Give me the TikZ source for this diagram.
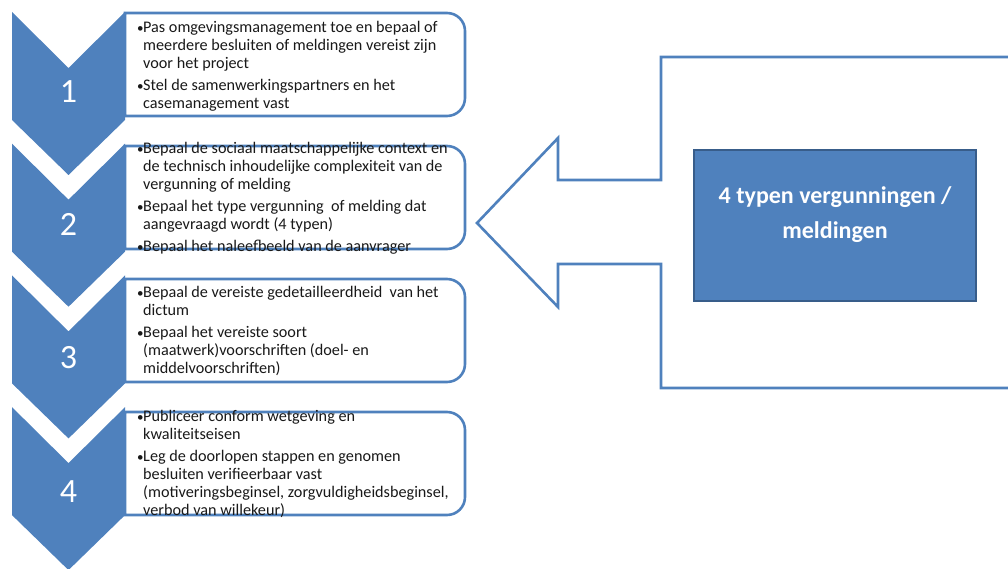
\documentclass[tikz,border=0pt]{standalone}
\usepackage{fontspec}
\setmainfont{Carlito}
\definecolor{accent}{HTML}{4F81BD}
\definecolor{accentdark}{HTML}{385D8A}
\newcommand{\bl}{\makebox[7pt][l]{\kern1pt{\fontsize{13}{13}\selectfont •}}}
\newcommand{\ct}{\hspace*{7pt}}
\tikzset{
  chevronshape/.style={fill=accent, draw=none},
  stepframe/.style={draw=accent, line width=2.6pt, fill=white},
  stepnum/.style={text=white, font=\fontsize{34}{40}\selectfont, inner sep=0pt},
  steptext/.style={anchor=west, align=left, inner sep=0pt, text=black!90,
    font=\fontsize{16.2}{18}\selectfont},
  bigarrow/.style={draw=accent, line width=2.6pt, fill=white, line join=miter},
  typebox/.style={draw=accentdark, line width=2.4pt, fill=accent}
}
\begin{document}
\begin{tikzpicture}[x=1pt, y=-1pt]
\useasboundingbox (0,0) rectangle (1008,569);
\clip (0,0) rectangle (1008,569);
% text boxes
\foreach \i in {0,1,2,3}{
  \pgfmathsetmacro{\T}{13+133*\i}
  \pgfmathsetmacro{\B}{\T+103}
  \draw[stepframe] (125,\B) -- (125,\T) [rounded corners=18pt] -- (465,\T) -- (465,\B) [sharp corners] -- (125,\B) -- cycle;
}
% chevrons
\foreach \i in {0,1,2,3}{
  \pgfmathsetmacro{\t}{12+131.7*\i}
  \fill[chevronshape] (12,\t) -- (68.5,\t+56) -- (125,\t) -- (125,\t+108) -- (68.5,\t+163) -- (12,\t+108) -- cycle;
}
\node[stepnum] (n1) at (68.5,92) {1};
\node[stepnum] (n2) at (68.5,224) {2};
\node[stepnum] (n3) at (68.5,358) {3};
\node[stepnum] (n4) at (68.5,492) {4};
% texts
\node[steptext] (t1) at (136,66) {\bl Pas omgevingsmanagement toe en bepaal of\\
\ct meerdere besluiten of meldingen vereist zijn\\
\ct voor het project\\[4pt]
\bl Stel de samenwerkingspartners en het\\
\ct casemanagement vast};
\node[steptext] (t2) at (136,198) {\bl Bepaal de sociaal maatschappelijke context en\\
\ct de technisch inhoudelijke complexiteit van de\\
\ct vergunning of melding\\[4pt]
\bl Bepaal het type vergunning\ \ of melding dat\\
\ct aangevraagd wordt (4 typen)\\[4pt]
\bl Bepaal het naleefbeeld van de aanvrager};
\node[steptext] (t3) at (136,331) {\bl Bepaal de vereiste gedetailleerdheid\ \ van het\\
\ct dictum\\[4pt]
\bl Bepaal het vereiste soort\\
\ct (maatwerk)voorschriften (doel- en\\
\ct middelvoorschriften)};
\node[steptext] (t4) at (136,464) {\bl Publiceer conform wetgeving en\\
\ct kwaliteitseisen\\[4pt]
\bl Leg de doorlopen stappen en genomen\\
\ct besluiten verifieerbaar vast\\
\ct (motiveringsbeginsel, zorgvuldigheidsbeginsel,\\
\ct verbod van willekeur)};
% big arrow
\draw[bigarrow] (1015,57) -- (661,57) -- (661,180) -- (558,180) -- (558,138) -- (477,223) -- (558,307) -- (558,264) -- (661,264) -- (661,388) -- (1015,388);
% type box
\draw[typebox] (694,150) rectangle (976,301);
\node[align=center, text=white, inner sep=0pt, font=\bfseries\fontsize{24}{35}\selectfont] (types) at (835,215) {4 typen vergunningen /\\ meldingen};
\end{tikzpicture}
\end{document}
